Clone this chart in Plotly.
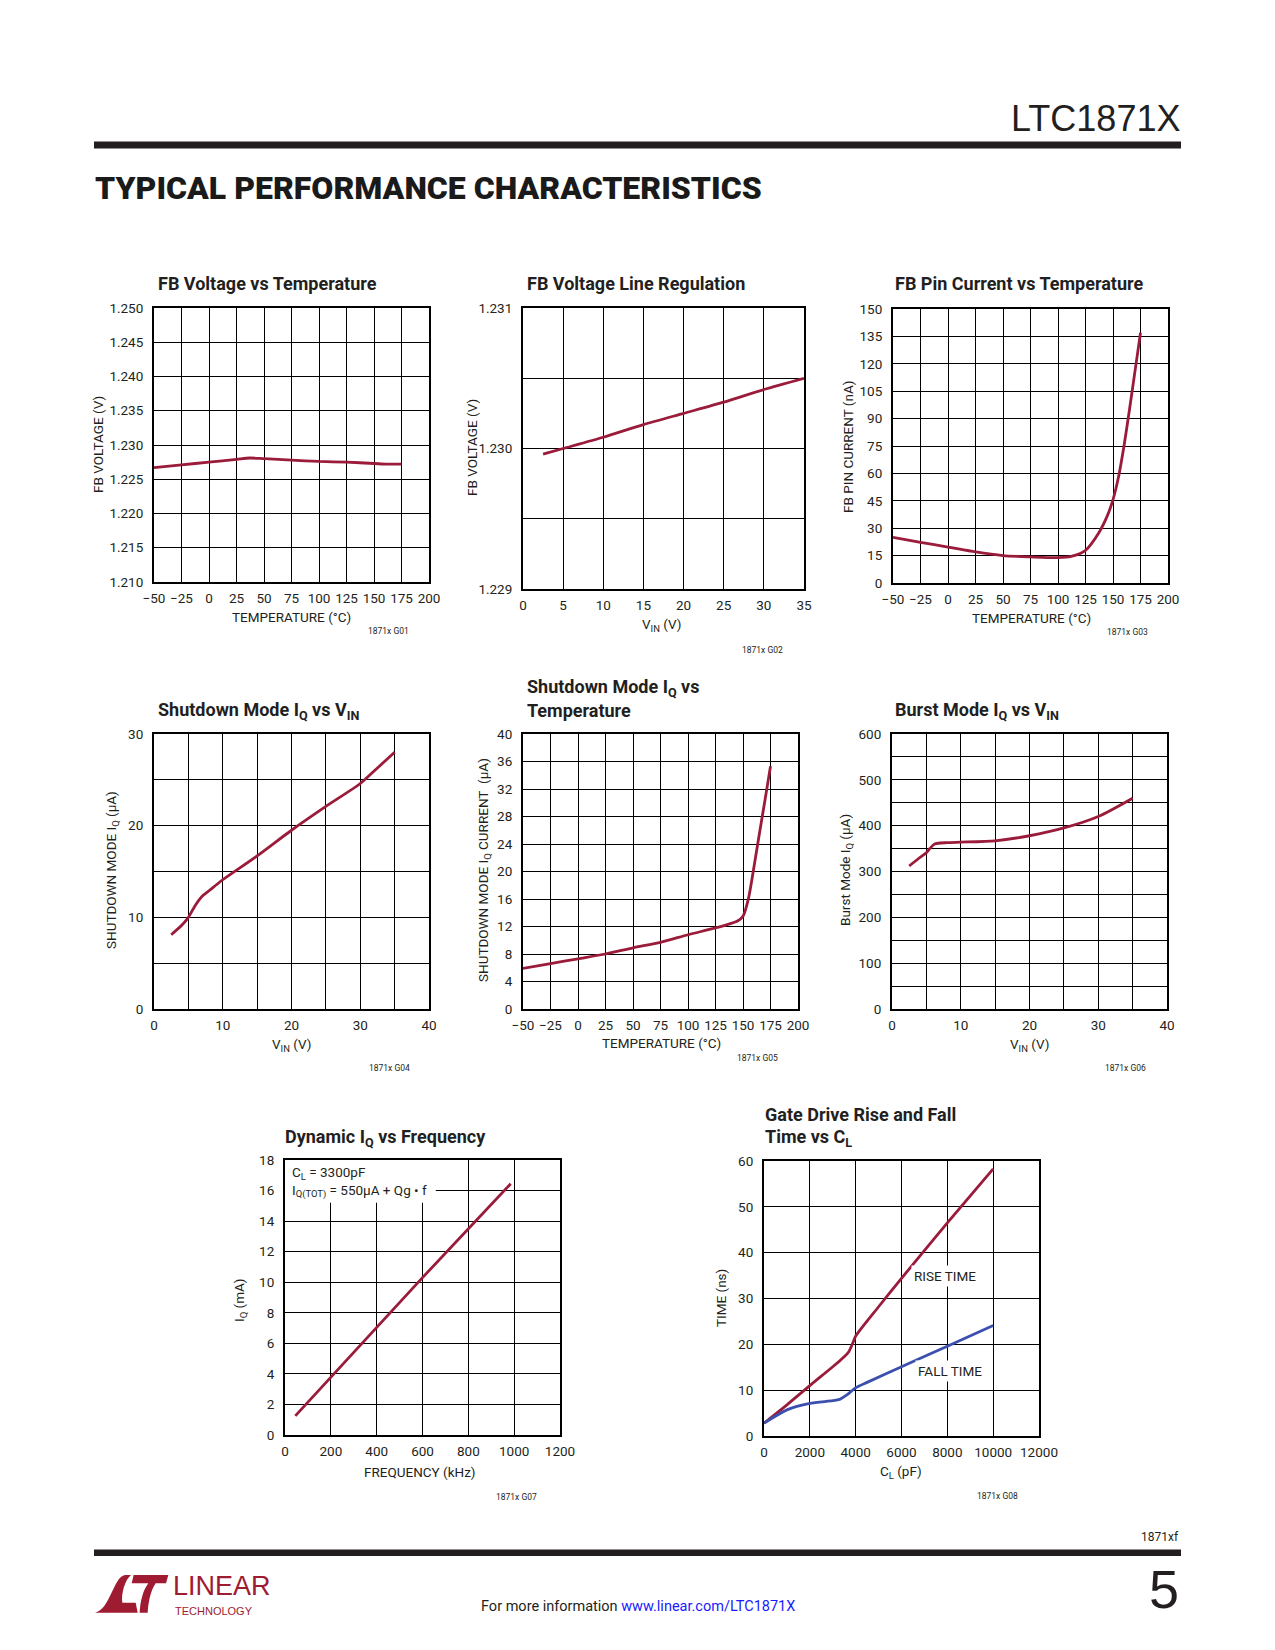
import plotly.graph_objects as go

W, H = 1275, 1650
RED = "#9B1B3A"
BLUE = "#3B4FAF"
INK = "#231F20"
LOGO = "#9E1B32"
FONT = "Roboto, Liberation Sans, Arial, sans-serif"
SANS = "Liberation Sans, Arial, sans-serif"

# ---------------- data ----------------
# G01 FB voltage vs temperature
g01_temp = [-50, -25, 0, 25, 37, 50, 75, 100, 125, 150, 162, 175]
g01_vfb = [1.2267, 1.2271, 1.2275, 1.2279, 1.2281, 1.2280, 1.2278, 1.2276, 1.2275, 1.2273, 1.2272, 1.2272]

# G02 FB voltage line regulation
g02_vin = [2.5, 5, 10, 15, 20, 25, 30, 35]
g02_vfb = [1.22996, 1.23000, 1.23008, 1.23017, 1.23025, 1.23033, 1.23042, 1.23050]

# G03 FB pin current vs temperature
g03_temp = [-50, -25, 0, 25, 50, 75, 100, 112, 125, 137, 145, 150, 155, 160, 165, 170, 175]
g03_ifb = [25.0, 22.3, 19.7, 17.0, 15.0, 14.3, 13.9, 14.6, 17.9, 27.4, 37.0, 45.6, 58.0, 75.0, 95.0, 116.0, 137.0]

# G04 shutdown mode IQ vs VIN
g04_vin = [2.5, 4, 5, 6, 7, 8, 10, 15, 20, 25, 30, 32.5, 35]
g04_iq = [8.1, 9.1, 10.0, 11.3, 12.3, 12.9, 14.1, 16.7, 19.5, 22.1, 24.6, 26.3, 28.0]

# G05 shutdown mode IQ vs temperature
g05_temp = [-50, -25, 0, 25, 50, 75, 100, 125, 140, 145, 150, 155, 160, 165, 170, 175]
g05_iq = [5.9, 6.6, 7.3, 8.0, 8.9, 9.7, 10.8, 11.8, 12.5, 12.8, 13.5, 16.1, 20.7, 25.6, 30.4, 35.3]

# G06 Burst Mode IQ vs VIN
g06_vin = [2.5, 4, 5, 5.5, 6.2, 8, 10, 15, 20, 25, 30, 35]
g06_iq = [312, 330, 341, 350, 360, 363, 364, 367, 378, 395, 420, 460]

# G07 dynamic IQ vs frequency
g07_freq = [45, 600, 985]
g07_iq = [1.25, 10.3, 16.45]

# G08 gate drive rise / fall time vs CL
g08_cl = [0, 1000, 2000, 3000, 3500, 3700, 3900, 4000, 5000, 6000, 8000, 10000]
g08_rise = [2.8, 6.8, 11.0, 15.1, 17.3, 18.4, 20.6, 21.8, 28.2, 34.4, 46.5, 58.3]
g08_cl_f = [0, 1000, 2000, 3000, 3300, 3600, 4000, 4500, 6000, 8000, 10000]
g08_fall = [2.8, 5.7, 7.1, 7.7, 8.0, 8.9, 10.5, 11.7, 15.1, 19.6, 24.1]

# axis ranges
g01_xr, g01_yr = [-50, 200], [1.210, 1.250]
g02_xr, g02_yr = [0, 35], [1.229, 1.231]
g03_xr, g03_yr = [-50, 200], [0, 150]
g04_xr, g04_yr = [0, 40], [0, 30]
g05_xr, g05_yr = [-50, 200], [0, 40]
g06_xr, g06_yr = [0, 40], [0, 600]
g07_xr, g07_yr = [0, 1200], [0, 18]
g08_xr, g08_yr = [0, 12000], [0, 60]


def X(px):
    return px / W


def Y(py):
    return 1 - py / H


fig = go.Figure()

tickfont = dict(family=FONT, size=13.5, color=INK)


def axis_common():
    return dict(showgrid=True, gridcolor="black", gridwidth=1, showline=True,
                linecolor="black", linewidth=2, mirror=True, zeroline=False,
                ticks="", tickfont=tickfont, fixedrange=True, automargin=False,
                tickangle=0)


layout_axes = {}


def panel(i, box, xr, yr, xd, yd, xminor=None, yminor=None, xfmt=None, yfmt=None):
    x0, x1, y0, y1 = box
    xa = axis_common()
    xa.update(domain=[X(x0), X(x1)], range=xr, dtick=xd, tick0=xr[0],
              anchor="y" if i == 1 else f"y{i}", ticklabelstandoff=3)
    if xminor:
        xa["minor"] = dict(dtick=xminor, tick0=xr[0], showgrid=True, gridcolor="black",
                           gridwidth=1, ticks="")
    if xfmt:
        xa["tickformat"] = xfmt
    ya = axis_common()
    ya.update(domain=[Y(y1), Y(y0)], range=yr, dtick=yd, tick0=yr[0],
              anchor="x" if i == 1 else f"x{i}", ticklabelstandoff=6)
    if yminor:
        ya["minor"] = dict(dtick=yminor, tick0=yr[0], showgrid=True, gridcolor="black",
                           gridwidth=1, ticks="")
    if yfmt:
        ya["tickformat"] = yfmt
    layout_axes["xaxis" if i == 1 else f"xaxis{i}"] = xa
    layout_axes["yaxis" if i == 1 else f"yaxis{i}"] = ya


def line(i, x, y, color=RED):
    fig.add_trace(go.Scatter(
        x=x, y=y, mode="lines",
        xaxis="x" if i == 1 else f"x{i}", yaxis="y" if i == 1 else f"y{i}",
        line=dict(color=color, width=2.8, shape="spline", smoothing=0.7),
        hoverinfo="skip", showlegend=False))


panel(1, (154, 429, 308, 582), g01_xr, g01_yr, 25, 0.005, yfmt=".3f")
panel(2, (523, 804, 308, 589), g02_xr, g02_yr, 5, 0.001, yminor=0.0005, yfmt=".3f")
panel(3, (893, 1168, 309, 583), g03_xr, g03_yr, 25, 15)
panel(4, (154, 429, 734, 1009), g04_xr, g04_yr, 10, 10, xminor=5, yminor=5)
panel(5, (523, 798, 734, 1009), g05_xr, g05_yr, 25, 4)
panel(6, (892, 1167, 734, 1009), g06_xr, g06_yr, 10, 100, xminor=5, yminor=50)
panel(7, (285, 560, 1160, 1435), g07_xr, g07_yr, 200, 2, xfmt="d")
panel(8, (764, 1039, 1161, 1436), g08_xr, g08_yr, 2000, 10, xfmt="d")

line(1, g01_temp, g01_vfb)
line(2, g02_vin, g02_vfb)
line(3, g03_temp, g03_ifb)
line(4, g04_vin, g04_iq)
line(5, g05_temp, g05_iq)
line(6, g06_vin, g06_iq)
line(7, g07_freq, g07_iq)
line(8, g08_cl, g08_rise, RED)
line(8, g08_cl_f, g08_fall, BLUE)

ann = []


def text(px, py, s, size=14, family=FONT, color=INK, xanchor="center", yanchor="middle",
         angle=0, bold=False, bg=None, pad=1, weight=None):
    f = dict(family=family, size=size, color=color)
    if weight:
        f["weight"] = weight
    d = dict(x=X(px), y=Y(py), xref="paper", yref="paper", text=(f"<b>{s}</b>" if bold else s),
             showarrow=False, xanchor=xanchor, yanchor=yanchor, textangle=angle,
             font=f, borderpad=pad, align="left")
    if bg:
        d["bgcolor"] = bg
    ann.append(d)


# header
text(1182, 118, "LTC1871X", size=36, family=SANS, xanchor="right")
text(93, 188, "TYPICAL PERFORMANCE CHARACTERISTICS", size=32, xanchor="left",
     weight=900, color="#1a1a1a")

# chart titles
TS = 18
text(156, 283, "FB Voltage vs Temperature", size=TS, xanchor="left", bold=True)
text(525, 283, "FB Voltage Line Regulation", size=TS, xanchor="left", bold=True)
text(893, 283, "FB Pin Current vs Temperature", size=TS, xanchor="left", bold=True)
text(156, 711, "Shutdown Mode I<sub>Q</sub> vs V<sub>IN</sub>", size=TS, xanchor="left", bold=True)
text(525, 688, "Shutdown Mode I<sub>Q</sub> vs", size=TS, xanchor="left", bold=True)
text(525, 710, "Temperature", size=TS, xanchor="left", bold=True)
text(893, 711, "Burst Mode I<sub>Q</sub> vs V<sub>IN</sub>", size=TS, xanchor="left", bold=True)
text(283, 1138, "Dynamic I<sub>Q</sub> vs Frequency", size=TS, xanchor="left", bold=True)
text(763, 1114, "Gate Drive Rise and Fall", size=TS, xanchor="left", bold=True)
text(763, 1138, "Time vs C<sub>L</sub>", size=TS, xanchor="left", bold=True)

# axis titles
AS = 13.5
text(98, 445, "FB VOLTAGE (V)", size=AS, angle=-90)
text(291, 617, "TEMPERATURE (°C)", size=AS)
text(472, 448, "FB VOLTAGE (V)", size=AS, angle=-90)
text(662, 625, "V<sub>IN</sub> (V)", size=AS)
text(848, 447, "FB PIN CURRENT (nA)", size=AS, angle=-90)
text(1031, 618, "TEMPERATURE (°C)", size=AS)
text(112, 870, "SHUTDOWN MODE I<sub>Q</sub> (μA)", size=AS, angle=-90)
text(291, 1045, "V<sub>IN</sub> (V)", size=AS)
text(484, 870, "SHUTDOWN MODE I<sub>Q</sub> CURRENT\u00a0 (μA)", size=AS, angle=-90)
text(661, 1043, "TEMPERATURE (°C)", size=AS)
text(846, 870, "Burst Mode I<sub>Q</sub> (μA)", size=AS, angle=-90)
text(1029, 1045, "V<sub>IN</sub> (V)", size=AS)
text(240, 1300, "I<sub>Q</sub> (mA)", size=AS, angle=-90)
text(420, 1472, "FREQUENCY (kHz)", size=AS)
text(721, 1298, "TIME (ns)", size=AS, angle=-90)
text(901, 1472, "C<sub>L</sub> (pF)", size=AS)

# in-plot labels
text(290, 1182, "C<sub>L</sub> = 3300pF<br>I<sub>Q(TOT)</sub> = 550μA + Qg • f", size=AS, xanchor="left")
text(945, 1276, "RISE TIME", size=AS, bg="white", pad=2)
text(950, 1371, "FALL TIME", size=AS, bg="white", pad=2)

# figure tags
TG = 8.5
text(411, 631, "1871x G01", size=TG, xanchor="right")
text(785, 650, "1871x G02", size=TG, xanchor="right")
text(1150, 632, "1871x G03", size=TG, xanchor="right")
text(412, 1068, "1871x G04", size=TG, xanchor="right")
text(780, 1058, "1871x G05", size=TG, xanchor="right")
text(1148, 1068, "1871x G06", size=TG, xanchor="right")
text(539, 1497, "1871x G07", size=TG, xanchor="right")
text(1020, 1496, "1871x G08", size=TG, xanchor="right")

# footer
text(1181, 1537, "1871xf", size=12, xanchor="right")
text(1181, 1589, "5", size=54, family=SANS, xanchor="right")
text(638, 1606, "For more information <span style='color:#1a1aff'>www.linear.com/LTC1871X</span>",
     size=14.5)
text(171, 1586, "LINEAR", size=27, family=SANS, xanchor="left", color=LOGO)
text(173, 1611, "TECHNOLOGY", size=11, family=SANS, xanchor="left", color=LOGO)

shapes = []
# header / footer rules
shapes.append(dict(type="rect", xref="paper", yref="paper", x0=X(94), x1=X(1181),
                   y0=Y(148.5), y1=Y(141.5), fillcolor=INK, line=dict(width=0)))
shapes.append(dict(type="rect", xref="paper", yref="paper", x0=X(94), x1=X(1181),
                   y0=Y(1556), y1=Y(1549.5), fillcolor=INK, line=dict(width=0)))

# white box behind the G07 note (covers gridlines, stays under the border)
shapes.append(dict(type="rect", xref="x7", yref="y7", x0=0, x1=658, y0=15.2, y1=18,
                   fillcolor="white", line=dict(width=0), layer="between"))


def logo_path(cmds):
    out = []
    for c in cmds:
        if isinstance(c, str):
            out.append(c)
        else:
            zx, zy = c
            out.append(f"{X(85 + zx / 3):.5f},{Y(1560 + zy / 3):.5f}")
    return " ".join(out)


L_shape = ["M", (30, 158), "C", (75, 150), (85, 50), (120, 45), "L", (138, 45), "C", (120, 60),
           (108, 100), (112, 128), "L", (152, 128), "L", (158, 158), "Z"]
T_shape = ["M", (146, 45), "L", (250, 45), "L", (243, 70), "L", (212, 70), "C", (195, 95),
           (190, 130), (188, 158), "L", (164, 158), "C", (166, 120), (175, 90), (190, 70),
           "L", (140, 70), "Z"]
for p in (L_shape, T_shape):
    shapes.append(dict(type="path", xref="paper", yref="paper", path=logo_path(p),
                       fillcolor=LOGO, line=dict(width=0)))

fig.update_layout(
    width=W, height=H, margin=dict(l=0, r=0, t=0, b=0, pad=0, autoexpand=False),
    paper_bgcolor="white", plot_bgcolor="white", showlegend=False,
    annotations=ann, shapes=shapes, **layout_axes)

fig.write_html("out.html", config={"displayModeBar": False, "staticPlot": True},
               post_script="document.body.style.margin='0px';document.body.style.padding='0px';")
